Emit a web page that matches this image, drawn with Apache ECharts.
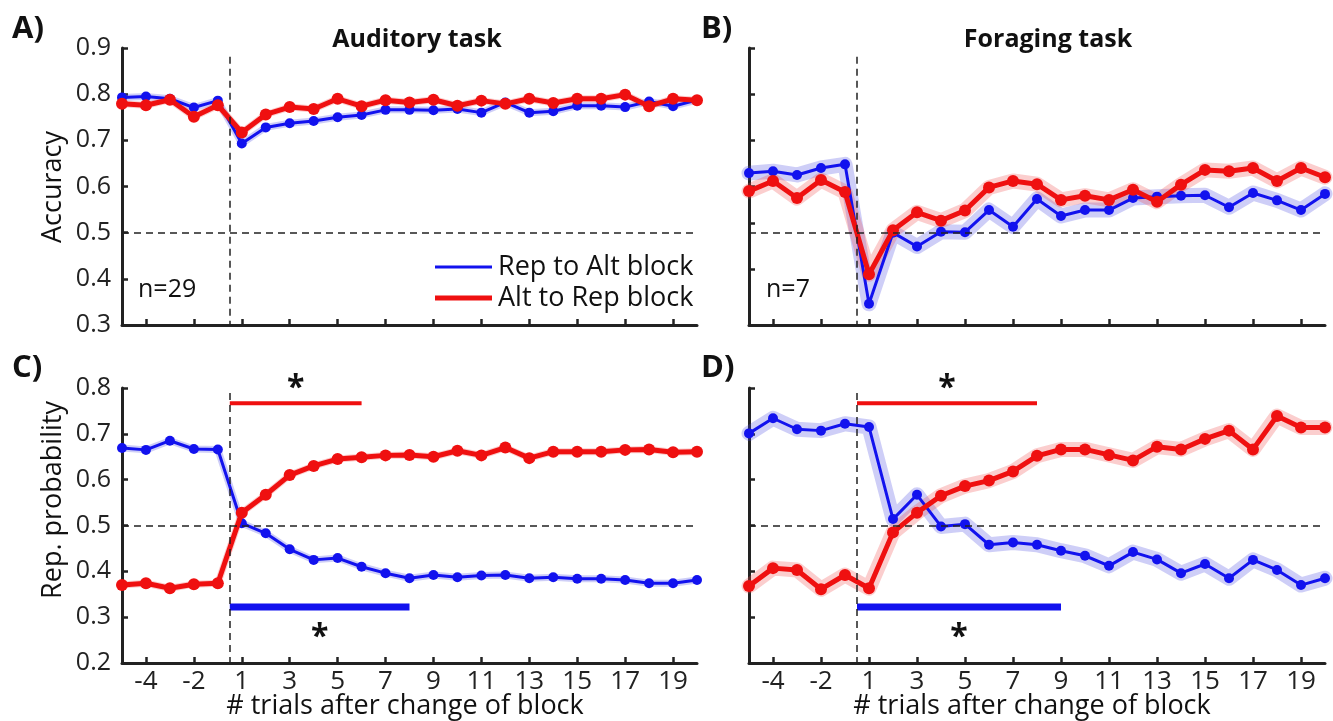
<!DOCTYPE html>
<html>
<head>
<meta charset="utf-8">
<title>Block change: accuracy and repetition probability</title>
<script src="https://cdn.jsdelivr.net/npm/echarts@6/dist/echarts.min.js"></script>
<style>
  html, body { margin: 0; padding: 0; background: #fff; }
  #chart { width: 1333px; height: 721px; }
</style>
</head>
<body>
<div id="chart"></div>
<script>
// Trial positions relative to the block change (no trial 0)
const trialLabels = ['-5', '-4', '-3', '-2', '-1',
  '1', '2', '3', '4', '5', '6', '7', '8', '9', '10',
  '11', '12', '13', '14', '15', '16', '17', '18', '19', '20'];

// Auditory task – accuracy
const audAccRepToAlt = [0.793, 0.795, 0.790, 0.771, 0.786,
  0.693, 0.728, 0.737, 0.742, 0.750, 0.755, 0.766, 0.766, 0.765, 0.768,
  0.760, 0.782, 0.760, 0.763, 0.775, 0.775, 0.772, 0.784, 0.774, 0.787];
const audAccAltToRep = [0.779, 0.776, 0.788, 0.751, 0.776,
  0.717, 0.756, 0.772, 0.768, 0.790, 0.774, 0.787, 0.782, 0.788, 0.775,
  0.786, 0.779, 0.790, 0.781, 0.790, 0.790, 0.799, 0.774, 0.790, 0.787];

// Foraging task – accuracy
const forAccRepToAlt = [0.629, 0.633, 0.625, 0.640, 0.648,
  0.346, 0.500, 0.470, 0.502, 0.501, 0.549, 0.513, 0.573, 0.536, 0.549,
  0.549, 0.575, 0.578, 0.580, 0.581, 0.555, 0.586, 0.570, 0.549, 0.584];
const forAccAltToRep = [0.590, 0.612, 0.575, 0.614, 0.588,
  0.410, 0.505, 0.544, 0.526, 0.548, 0.598, 0.612, 0.605, 0.571, 0.580,
  0.571, 0.593, 0.567, 0.604, 0.636, 0.633, 0.640, 0.612, 0.640, 0.620];

// Auditory task – repetition probability
const audRepRepToAlt = [0.669, 0.665, 0.685, 0.667, 0.666,
  0.505, 0.483, 0.448, 0.425, 0.429, 0.410, 0.396, 0.385, 0.392, 0.387,
  0.391, 0.392, 0.385, 0.387, 0.384, 0.384, 0.381, 0.374, 0.374, 0.381];
const audRepAltToRep = [0.370, 0.374, 0.363, 0.372, 0.374,
  0.528, 0.567, 0.610, 0.630, 0.645, 0.649, 0.653, 0.654, 0.650, 0.663,
  0.653, 0.670, 0.647, 0.661, 0.661, 0.661, 0.665, 0.666, 0.660, 0.661];

// Foraging task – repetition probability
const forRepRepToAlt = [0.701, 0.734, 0.710, 0.707, 0.722,
  0.715, 0.514, 0.567, 0.498, 0.503, 0.458, 0.463, 0.458, 0.445, 0.434,
  0.412, 0.442, 0.426, 0.396, 0.416, 0.385, 0.425, 0.403, 0.370, 0.385];
const forRepAltToRep = [0.368, 0.407, 0.403, 0.361, 0.392,
  0.363, 0.485, 0.528, 0.565, 0.586, 0.598, 0.618, 0.652, 0.666, 0.666,
  0.654, 0.642, 0.672, 0.666, 0.689, 0.707, 0.666, 0.739, 0.714, 0.714];

// Last trial of each significant stretch after the change: [Alt to Rep, Rep to Alt]
const sigAuditory = [6, 8];
const sigForaging = [8, 9];

const BLUE = '#1212ee';
const RED = '#ef1010';
const BLUE_BAND = 'rgba(80, 80, 225, 0.28)';
const RED_BAND = 'rgba(240, 80, 80, 0.28)';
const INK = '#222';
const FONT = 'Open Sans';

const CHANGE_POS = 4.5;                       // between trial -1 and trial 1
const oddIdx = trialLabels.map((_, i) => i).filter(i => i % 2 === 1);
const idxOf = t => trialLabels.indexOf(String(t));
const pts = arr => arr.map((v, i) => [i, v]);

const grids = [
  { left: 122, top: 48, width: 575, height: 277 },
  { left: 749, top: 48, width: 576, height: 277 },
  { left: 122, top: 388, width: 575, height: 275 },
  { left: 749, top: 388, width: 576, height: 275 }
];

function xAxis(gi, showLabels) {
  return {
    type: 'value', gridIndex: gi, min: 0, max: 24,
    axisLine: { lineStyle: { color: INK, width: 3 } },
    axisTick: { inside: true, length: 6, customValues: oddIdx, lineStyle: { color: INK, width: 2.5 } },
    axisLabel: {
      show: showLabels, customValues: oddIdx, margin: 6,
      formatter: v => trialLabels[Math.round(v)],
      color: INK, fontFamily: FONT, fontSize: 26
    },
    splitLine: { show: false }
  };
}

function yAxis(gi, min, max, showLabels, ticks) {
  const tickCfg = { inside: true, length: 6, lineStyle: { color: INK, width: 2.5 } };
  if (ticks) tickCfg.customValues = ticks;
  return {
    type: 'value', gridIndex: gi, min: min, max: max, interval: 0.1,
    axisLine: { show: true, lineStyle: { color: INK, width: 3 } },
    axisTick: tickCfg,
    axisLabel: {
      show: showLabels, margin: 11, formatter: v => v.toFixed(1),
      color: INK, fontFamily: FONT, fontSize: 25
    },
    splitLine: { show: false }
  };
}

function panelSeries(gi, blue, red, bandWidth, yMin, changeTop) {
  const refLines = {
    silent: true, symbol: 'none', label: { show: false },
    lineStyle: { type: [7, 5], color: INK, width: 1.5 },
    emphasis: { disabled: true },
    data: [
      { yAxis: 0.5 },
      [{ coord: [CHANGE_POS, changeTop] }, { coord: [CHANGE_POS, yMin] }]
    ]
  };
  return [
    {
      type: 'line', name: 'Rep to Alt band', xAxisIndex: gi, yAxisIndex: gi,
      data: pts(blue), symbol: 'none', silent: true, z: 1,
      lineStyle: { width: bandWidth, color: BLUE_BAND, join: 'round', cap: 'round' },
      markLine: refLines
    },
    {
      type: 'line', name: 'Alt to Rep band', xAxisIndex: gi, yAxisIndex: gi,
      data: pts(red), symbol: 'none', silent: true, z: 1,
      lineStyle: { width: bandWidth, color: RED_BAND, join: 'round', cap: 'round' }
    },
    {
      type: 'line', name: 'Rep to Alt block', xAxisIndex: gi, yAxisIndex: gi,
      data: pts(blue), symbol: 'circle', symbolSize: 10, z: 3,
      lineStyle: { width: 3, color: BLUE }, itemStyle: { color: BLUE }
    },
    {
      type: 'line', name: 'Alt to Rep block', xAxisIndex: gi, yAxisIndex: gi,
      data: pts(red), symbol: 'circle', symbolSize: 12, z: 4,
      lineStyle: { width: 5, color: RED }, itemStyle: { color: RED }
    }
  ];
}

// Horizontal significance bar running from the block change to the last significant trial
function sigBar(gi, lastTrial, level, color, width, starAbove) {
  const end = idxOf(lastTrial);
  const mid = (CHANGE_POS + end) / 2;
  return {
    type: 'line', xAxisIndex: gi, yAxisIndex: gi, silent: true, z: 2,
    symbol: 'circle', symbolSize: 0,
    lineStyle: { width: width, color: color },
    itemStyle: { color: color },
    data: [
      [CHANGE_POS, level],
      {
        value: [mid, level],
        label: {
          show: true, formatter: '*', position: starAbove ? 'top' : 'bottom',
          distance: starAbove ? -2 : 15,
          color: '#111', fontFamily: FONT, fontWeight: 'bold', fontSize: 32
        }
      },
      [end, level]
    ]
  };
}

const series = [].concat(
  panelSeries(0, audAccRepToAlt, audAccAltToRep, 7, 0.3, 0.881),
  panelSeries(1, forAccRepToAlt, forAccAltToRep, 15, 0.3, 0.881),
  panelSeries(2, audRepRepToAlt, audRepAltToRep, 7, 0.2, 0.789),
  panelSeries(3, forRepRepToAlt, forRepAltToRep, 15, 0.2, 0.789),
  [
    sigBar(2, sigAuditory[0], 0.767, RED, 4, true),
    sigBar(2, sigAuditory[1], 0.322, BLUE, 7, false),
    sigBar(3, sigForaging[0], 0.767, RED, 4, true),
    sigBar(3, sigForaging[1], 0.322, BLUE, 7, false)
  ]
);

function txt(x, y, text, size, opts) {
  return {
    type: 'text', x: x, y: y, rotation: (opts && opts.rotation) || 0, silent: true,
    style: {
      text: text, fill: '#111', font: ((opts && opts.bold) ? 'bold ' : '') + size + 'px "' + FONT + '"',
      textAlign: (opts && opts.align) || 'center', textVerticalAlign: 'middle'
    }
  };
}

const legendText = { color: '#111', fontFamily: FONT, fontSize: 27, lineHeight: 32 };

const option = {
  animation: false,
  backgroundColor: '#fff',
  grid: grids,
  xAxis: [xAxis(0, false), xAxis(1, false), xAxis(2, true), xAxis(3, true)],
  yAxis: [
    yAxis(0, 0.3, 0.9, true),
    yAxis(1, 0.3, 0.9, false, [0.42, 0.52, 0.6, 0.7, 0.8, 0.9]),
    yAxis(2, 0.2, 0.8, true),
    yAxis(3, 0.2, 0.8, false)
  ],
  legend: [
    {
      data: ['Rep to Alt block'], left: 430, top: 246, icon: 'rect',
      itemWidth: 57, itemHeight: 3, itemGap: 0, selectedMode: false,
      textStyle: Object.assign({ padding: [0, 0, 0, 1] }, legendText)
    },
    {
      data: ['Alt to Rep block'], left: 430, top: 277, icon: 'rect',
      itemWidth: 57, itemHeight: 5, itemGap: 0, selectedMode: false,
      textStyle: Object.assign({ padding: [0, 0, 0, 1] }, legendText)
    }
  ],
  graphic: [
    txt(12, 29, 'A)', 31, { bold: true, align: 'left' }),
    txt(701, 29, 'B)', 31, { bold: true, align: 'left' }),
    txt(12, 368, 'C)', 31, { bold: true, align: 'left' }),
    txt(701, 368, 'D)', 31, { bold: true, align: 'left' }),
    txt(417, 40, 'Auditory task', 25, { bold: true }),
    txt(1048, 40, 'Foraging task', 25, { bold: true }),
    txt(53, 187, 'Accuracy', 27, { rotation: Math.PI / 2 }),
    txt(53, 500, 'Rep. probability', 27, { rotation: Math.PI / 2 }),
    txt(405, 706, '# trials after change of block', 27),
    txt(1032, 706, '# trials after change of block', 27),
    txt(138, 290, 'n=29', 25, { align: 'left' }),
    txt(766, 290, 'n=7', 25, { align: 'left' })
  ],
  series: series
};

const chart = echarts.init(document.getElementById('chart'), null, { renderer: 'canvas' });
chart.setOption(option);
</script>
</body>
</html>
